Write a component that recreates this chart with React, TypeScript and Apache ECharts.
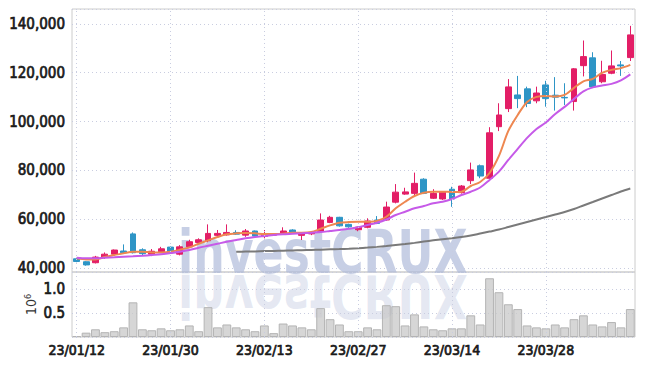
import React, { useEffect, useRef } from "react";
import * as echarts from "echarts";

const dates = ['23/01/12','23/01/13','23/01/16','23/01/17','23/01/18','23/01/19','23/01/20','23/01/25','23/01/26','23/01/27','23/01/30','23/01/31','23/02/01','23/02/02','23/02/03','23/02/06','23/02/07','23/02/08','23/02/09','23/02/10','23/02/13','23/02/14','23/02/15','23/02/16','23/02/17','23/02/20','23/02/21','23/02/22','23/02/23','23/02/24','23/02/27','23/02/28','23/03/02','23/03/03','23/03/06','23/03/07','23/03/08','23/03/09','23/03/10','23/03/13','23/03/14','23/03/15','23/03/16','23/03/17','23/03/20','23/03/21','23/03/22','23/03/23','23/03/24','23/03/27','23/03/28','23/03/29','23/03/30','23/03/31','23/04/03','23/04/04','23/04/05','23/04/06','23/04/07','23/04/10'];

const opens = [43800,42600,42200,44400,45700,47000,54000,47500,45700,46700,48600,45700,48700,50500,51200,53400,53600,54600,53500,55200,53000,53500,53900,55600,53400,54000,55100,58700,60800,57900,55700,56700,59700,59700,67000,70300,70600,76400,68600,68300,72300,70900,75800,81900,76800,97900,105300,110900,113400,108500,115000,110800,109900,108200,122900,126100,116300,119800,123200,126200];
const closes = [42700,41300,44500,45700,47400,46300,46300,45900,46900,47900,46300,48700,50800,51600,54200,54200,54600,53900,55200,53100,53800,53800,55200,54300,54200,54500,59700,60800,57300,56900,56800,59300,58300,65000,71100,71200,74700,70600,70600,71100,68300,73600,80200,77700,95400,102700,114200,109400,107400,111700,109400,110000,109700,121600,126600,114200,119300,122800,122800,135500];
const lows = [42400,41000,41900,43800,45500,46000,46000,45000,44900,46400,46000,45200,48400,50300,50600,52900,53300,53600,52800,52900,52200,53200,53600,54000,51500,53500,54800,58400,57000,56500,55100,56300,58000,59400,66500,70000,69900,70300,68300,67900,65100,70500,74400,76800,75800,96100,103900,105500,105900,107500,106100,104500,106800,104500,118500,113700,115700,119400,118700,124800];
const highs = [44200,42800,45000,46400,47600,49700,54600,48100,47800,48700,48800,49400,51600,52200,57900,55600,57900,55500,56000,55400,55600,54300,56700,55900,54600,54700,62400,61400,61000,58200,57000,60400,61300,67200,74400,72900,79100,76800,72300,71300,73300,74000,83200,82400,97700,107500,117400,118700,114300,114300,116700,118200,115700,121900,133200,128400,124900,129100,124800,139200];

const ma5 = [43980,43570,43570,44510,45330,46030,46680,46680,46430,46430,46680,47500,48490,49960,51360,52710,53820,54220,54350,54220,53940,53940,54060,54470,54470,54760,56110,57510,58570,58860,58980,58980,59270,61030,64480,67180,69520,70870,71290,71290,71160,71290,73620,75260,78950,85920,96160,102720,108050,110100,110510,110300,110920,113790,116460,117480,119940,121180,121880,123230];
const ma20 = [44220,43980,43980,44220,44390,44630,44800,45040,45330,45620,46150,46680,47380,48320,49140,49960,50780,51480,52180,52710,53120,53530,53820,54020,54230,54470,54760,55170,55580,56110,56690,57630,58570,59890,61730,63080,64480,65420,66530,67180,68290,69930,71280,73000,76080,79480,84280,88790,93300,96990,99650,103140,106010,109290,112370,114010,114750,115440,116880,119340];
const maLong = [null,null,null,null,null,null,null,null,null,null,null,null,null,null,null,null,null,46680,46760,46840,46970,47050,47130,47220,47340,47420,47540,47670,47790,47950,48160,48400,48690,49020,49430,49840,50330,50870,51360,51810,52220,52710,53330,54150,54970,55780,56810,57840,58860,59890,60910,61940,62960,64190,65630,67060,68500,69930,71370,72600];

// volume in units of 10^6
const volumes = [0.02,0.09,0.16,0.10,0.12,0.20,0.72,0.16,0.14,0.18,0.14,0.16,0.24,0.12,0.62,0.20,0.26,0.20,0.16,0.12,0.24,0.08,0.28,0.24,0.20,0.16,0.60,0.37,0.26,0.12,0.12,0.20,0.16,0.66,0.64,0.24,0.47,0.22,0.16,0.14,0.18,0.18,0.45,0.26,1.22,0.93,0.68,0.58,0.24,0.20,0.18,0.26,0.20,0.37,0.45,0.26,0.22,0.31,0.20,0.58];

// dates that carry a label and a vertical grid line
const labelDates = dates.filter((_, i) => i % 10 === 0);

const FONT = "'Liberation Sans Narrow','DejaVu Sans Condensed',sans-serif";
const UP = "#e31e66";
const DOWN = "#2e95c6";
const GRIDC = "#c9cde0";
const TXT = "#1a1a1a";

export default function App() {
  const ref = useRef<HTMLDivElement>(null);
  useEffect(() => {
    if (!ref.current) return;
    const chart = echarts.init(ref.current, undefined, { renderer: "svg" });
    const candleData = opens.map((o, i) => [o, closes[i], lows[i], highs[i]]);
    const splitLineY = {
      show: true,
      lineStyle: { color: GRIDC, type: [1, 3] as any, width: 1 },
    };
    const labelBase = {
      fontFamily: FONT, color: TXT, textBorderColor: TXT, textBorderWidth: 0.7,
    };
    const vLines = (xi: number, yi: number) => ({
      type: "line",
      xAxisIndex: xi,
      yAxisIndex: yi,
      data: [],
      z: 1,
      silent: true,
      markLine: {
        silent: true,
        symbol: ["none", "none"],
        label: { show: false },
        lineStyle: { color: GRIDC, type: [1, 3] as any, width: 1 },
        data: labelDates.map((d) => ({ xAxis: d })),
      },
    });
    const wmStyle = (fill: string) => ({
      text: "investCRUX",
      fontFamily: FONT,
      fontSize: 60,
      fontWeight: "bold",
      fill,
      verticalAlign: "middle",
    });
    chart.setOption({
      animation: false,
      backgroundColor: "#ffffff",
      grid: [
        { left: 72, right: 10, top: 9, height: 263, show: true, borderColor: "#cccccc", borderWidth: 1, backgroundColor: "transparent" },
        { left: 72, right: 10, top: 272, height: 65, show: true, borderColor: "#cccccc", borderWidth: 1, backgroundColor: "transparent" },
      ],
      graphic: [
        { type: "text", x: 178, y: 252, scaleX: 0.82, z: 0, silent: true, style: wmStyle("rgba(172,184,216,0.68)") },
        { type: "text", x: 178, y: 296, scaleX: 0.82, scaleY: -1, z: 0, silent: true, style: wmStyle("rgba(172,184,216,0.32)") },
      ],
      xAxis: [
        {
          type: "category", gridIndex: 0, data: dates, boundaryGap: true,
          axisLine: { show: false }, axisTick: { show: false }, axisLabel: { show: false },
          splitLine: { show: false },
        },
        {
          type: "category", gridIndex: 1, data: dates, boundaryGap: true,
          axisLine: { show: false }, axisTick: { show: false },
          axisLabel: { ...labelBase, interval: 9, fontSize: 14, margin: 6 },
          splitLine: { show: false },
        },
      ],
      yAxis: [
        {
          type: "value", gridIndex: 0, min: 38400, max: 146100, splitNumber: 5,
          axisLine: { show: false }, axisTick: { show: false },
          axisLabel: {
            ...labelBase, fontSize: 15, margin: 7,
            showMinLabel: false, showMaxLabel: false,
            formatter: (v: number) => v.toLocaleString("en-US"),
          },
          splitLine: splitLineY,
        },
        {
          type: "value", gridIndex: 1, min: 0, max: 1.35, interval: 0.5,
          axisLine: { show: false }, axisTick: { show: false },
          axisLabel: {
            ...labelBase, fontSize: 15, margin: 7,
            showMinLabel: false, showMaxLabel: false,
            formatter: (v: number) => v.toFixed(1),
          },
          splitLine: splitLineY,
          name: "{a|10}{b|6}",
          nameLocation: "middle",
          nameRotate: 90,
          nameGap: 33,
          nameMoveOverlap: false,
          nameTextStyle: {
            rich: {
              a: { fontFamily: FONT, fontSize: 14, color: "#333", lineHeight: 16 },
              b: { fontFamily: FONT, fontSize: 9, color: "#333", lineHeight: 10, verticalAlign: "top" },
            },
          },
        },
      ],
      series: [
        vLines(0, 0),
        vLines(1, 1),
        {
          type: "candlestick", xAxisIndex: 0, yAxisIndex: 0, data: candleData,
          barWidth: "68%",
          itemStyle: { color: UP, color0: DOWN, borderColor: UP, borderColor0: DOWN, borderWidth: 1 },
        },
        {
          type: "line", xAxisIndex: 0, yAxisIndex: 0, data: ma5, showSymbol: false, smooth: 0.3,
          lineStyle: { color: "#ee8750", width: 2 }, itemStyle: { color: "#ee8750" },
        },
        {
          type: "line", xAxisIndex: 0, yAxisIndex: 0, data: ma20, showSymbol: false, smooth: 0.3,
          lineStyle: { color: "#c65ae8", width: 2 }, itemStyle: { color: "#c65ae8" },
        },
        {
          type: "line", xAxisIndex: 0, yAxisIndex: 0, data: maLong, showSymbol: false, smooth: 0.3,
          lineStyle: { color: "#7a7a7a", width: 2 }, itemStyle: { color: "#7a7a7a" },
        },
        {
          type: "bar", xAxisIndex: 1, yAxisIndex: 1, data: volumes, barCategoryGap: "6%",
          itemStyle: { color: "rgba(200,200,200,0.75)", borderColor: "#b4b4b4", borderWidth: 1 },
        },
      ],
    });
    return () => chart.dispose();
  }, []);
  return (
    <div
      ref={ref}
      style={{ position: "fixed", left: 0, top: 0, width: 645, height: 366, background: "#fff" }}
    />
  );
}
